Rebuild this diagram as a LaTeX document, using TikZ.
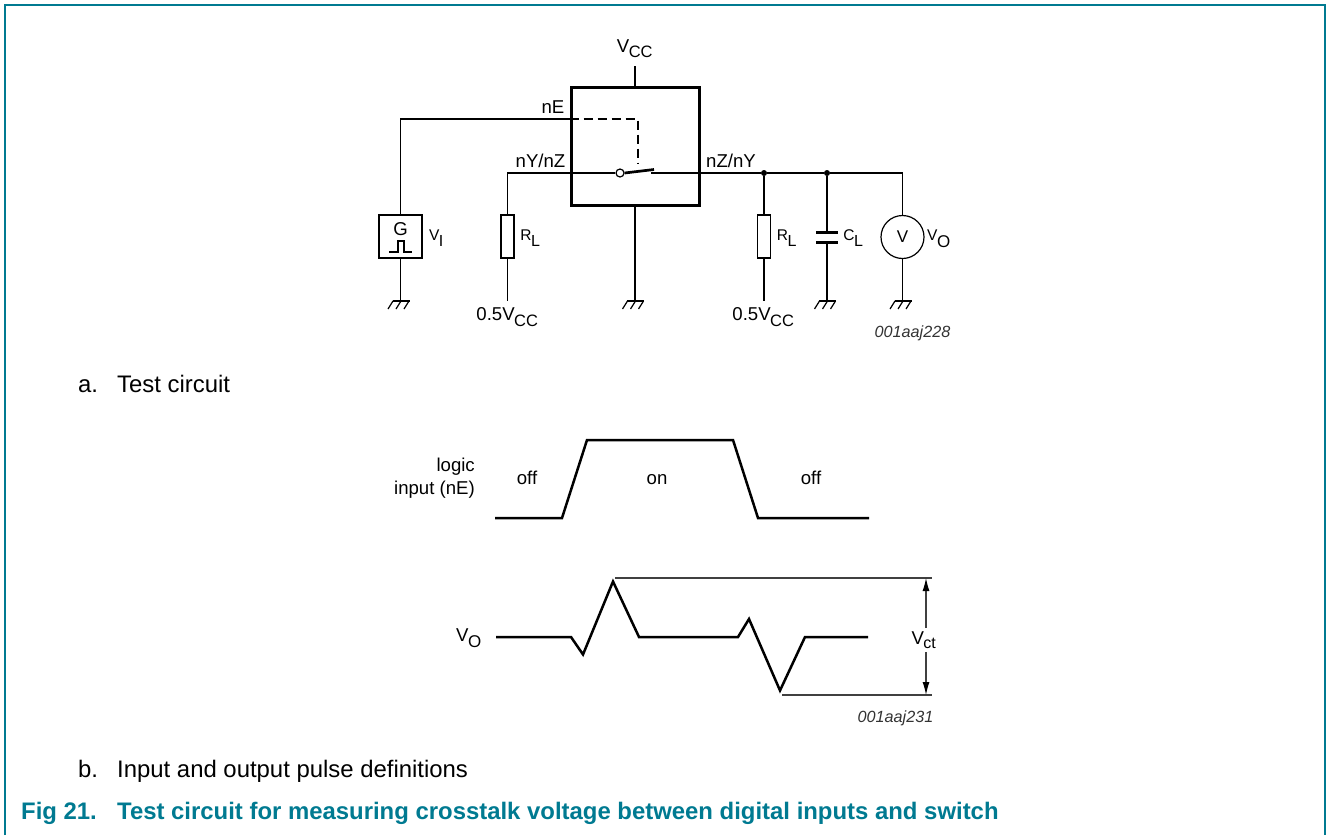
\documentclass[tikz,border=0pt]{standalone}
\usepackage{fontspec}
\setmainfont{Liberation Sans}
\usepackage{tikz}
\usetikzlibrary{arrows.meta, positioning}
\definecolor{figteal}{RGB}{0,122,145}
\tikzset{
    wire/.style={line width=1.2pt},
    thinwire/.style={line width=1.1pt, draw=black!75},
    heavy/.style={line width=2.5pt},
    lbl/.style={inner sep=0pt, font=\fontsize{18.6}{23}\selectfont},
    lblsm/.style={inner sep=0pt, font=\fontsize{15.5}{18}\selectfont},
    tag/.style={inner sep=0pt, font=\fontsize{16.2}{18}\selectfont\itshape, text=black!80},
    body/.style={inner sep=0pt, anchor=base west, font=\fontsize{23.9}{27}\selectfont},
    capt/.style={inner sep=0pt, anchor=base west, font=\fontsize{23.9}{27}\selectfont\bfseries, text=figteal},
    resbox/.style={draw, line width=1.2pt, minimum width=13pt, minimum height=43pt, inner sep=0pt},
    dotnode/.style={circle, fill=black, inner sep=0pt, minimum size=6pt},
    gndmark/.pic={
        \draw[line width=1.2pt] (-8,0) -- (9,0);
        \foreach \x in {-8,0,8} {
            \draw[line width=1.2pt] (\x+0.5,0) -- (\x-4.5,8);
        }
    }
}
\newcommand{\lsub}[3][16.5]{#2\textsubscript{\kern-0.5pt\fontsize{#1}{#1}\selectfont #3}}
\begin{document}
\begin{tikzpicture}[x=1pt, y=-1pt]
    \useasboundingbox (0,0) rectangle (1327,835);
    % Frame
    \draw[figteal, line width=1.2pt] (5,835) -- (5,5) -- (1325,5) -- (1325,835);

    % Test circuit
    \node[draw, line width=3pt, minimum width=128pt, minimum height=118pt, inner sep=0pt] (chip) at (635,146) {};
    \node[lbl] (vcc) at (635,48.5) {\lsub{V}{CC}};
    \coordinate (vcctop) at (635,66);
    \draw[wire] (vcctop) -- (chip.north);

    \node[draw, line width=1.2pt, minimum size=43pt, inner sep=0pt] (gen) at (400.5,236.5) {};
    \node[lbl] (gtext) at (400.5,229) {G};
    \coordinate (pa) at (389,252);
    \draw[wire] (pa) -- ++(9,0) -- ++(0,-11) -- ++(6,0) -- ++(0,11) -- ++(8,0);
    \node[lblsm] (vi) at (436.5,238) {\lsub[16]{V}{I}};

    \coordinate (ne) at (chip.west |- 0,119);
    \coordinate (nein) at (638,119);
    \coordinate (swdash) at (638,164);
    \draw[wire] (ne) -| (gen.north);
    \draw[wire, dash pattern=on 9pt off 5pt] (ne) -- (nein) -- (swdash);
    \node[lbl] (nelbl) at (553,107) {nE};

    % Switch and left load
    \node[circle, draw, fill=white, line width=1.2pt, minimum size=8pt, inner sep=0pt] (pole) at (620,173) {};
    \node[resbox] (rl1) at (507.5,236.5) {};
    \coordinate (swr) at (651,173);
    \coordinate (swtip) at (654,169.5);
    \draw[wire] (pole.west) -- (rl1.north |- pole.west) -- (rl1.north);
    \draw[line width=2.7pt] (pole.east) -- (swtip);
    \node[lbl] (nynz) at (540.5,161) {nY/nZ};
    \node[lbl] (nzny) at (731,161) {nZ/nY};
    \coordinate (rl1end) at (507.5,301);
    \draw[wire] (rl1.south) -- (rl1end);
    \node[lbl] (rl1v) at (507.5,317) {0.5\lsub{V}{CC}};
    \node[lblsm] (rl1lbl) at (530.5,238.5) {\lsub[16]{R}{L}};

    % Right load
    \node[dotnode] (dotr) at (764,173) {};
    \node[dotnode] (dotc) at (827,173) {};
    \node[circle, draw, line width=1.2pt, minimum size=43pt, inner sep=0pt, font=\fontsize{17}{19}\selectfont] (vm) at (902.5,237) {V};
    \draw[wire] (swr) -- (dotr) -- (dotc) -| (vm.north);
    \node[resbox] (rl2) at (764,236.5) {};
    \draw[wire] (dotr) -- (rl2.north);
    \coordinate (rl2end) at (764,301);
    \draw[wire] (rl2.south) -- (rl2end);
    \node[lbl] (rl2v) at (763.5,317) {0.5\lsub{V}{CC}};
    \node[lblsm] (rl2lbl) at (787,238.5) {\lsub[16]{R}{L}};
    \coordinate (capa) at (827,232);
    \coordinate (capb) at (827,242);
    \draw[line width=3pt] ([xshift=-11pt]capa) -- ([xshift=11pt]capa);
    \draw[line width=3pt] ([xshift=-11pt]capb) -- ([xshift=11pt]capb);
    \draw[wire] (dotc) -- (capa);
    \node[lblsm] (cl) at (853.5,238.5) {\lsub[16]{C}{L}};
    \node[lblsm] (vo) at (939,238.5) {\lsub[17]{V}{O}};
    \node[tag] (tagone) at (912.5,333) {001aaj228};

    % Grounds
    \coordinate (gnda) at (400.5,301);
    \coordinate (gndb) at (635,301);
    \coordinate (gndc) at (827,301);
    \coordinate (gndd) at (902.5,301);
    \draw[wire] (gen.south) -- (gnda);
    \draw[wire] (chip.south) -- (gndb);
    \draw[wire] (capb) -- (gndc);
    \draw[wire] (vm.south) -- (gndd);
    \foreach \g in {gnda,gndb,gndc,gndd} {
        \pic at (\g) {gndmark};
    }

    \node[body] (suba) at (78,392) {a.};
    \node[body] (subatext) at (117,392) {Test circuit};

    % Pulses
    \node[lbl, align=right, anchor=east] (logic) at (475,478.5) {logic\\input (nE)};
    \node[lbl, anchor=base] (offa) at (527,484) {off};
    \node[lbl, anchor=base] (onb) at (657,484) {on};
    \node[lbl, anchor=base] (offc) at (811,484) {off};
    \draw[heavy] (495,518) -- (562,518) -- (587,440) -- (733,440) -- (758,518) -- (869,518);

    \node[lbl] (vowave) at (469,638) {\lsub[17]{V}{O}};
    \draw[heavy] (496,637) -- (571,637) -- (583,654.5) -- (613,581.5) -- (639,637) -- (738,637)
        -- (749,619) -- (780,690.5) -- (805,637) -- (868,637);
    \coordinate (tla) at (615,578);
    \coordinate (tlb) at (932,578);
    \coordinate (bla) at (782,695);
    \coordinate (blb) at (932,695);
    \draw[thinwire] (tla) -- (tlb);
    \draw[thinwire] (bla) -- (blb);
    \node[lbl, fill=white, inner ysep=3pt] (vct) at (924,640) {\lsub[16]{V}{ct}};
    \coordinate (arra) at (926,578);
    \coordinate (arrb) at (926,695);
    \draw[thinwire, -{Latex[length=13pt,width=7pt,black]}] (vct.north -| arra) -- (arra);
    \draw[thinwire, -{Latex[length=13pt,width=7pt,black]}] (vct.south -| arrb) -- (arrb);
    \node[tag] (tagtwo) at (895.5,718) {001aaj231};

    \node[body] (subb) at (78,777) {b.};
    \node[body] (subbtext) at (117,777) {Input and output pulse definitions};
    \node[capt] (figno) at (21,819) {Fig 21.};
    \node[capt] (figtext) at (117,819) {Test circuit for measuring crosstalk voltage between digital inputs and switch};
\end{tikzpicture}
\end{document}
